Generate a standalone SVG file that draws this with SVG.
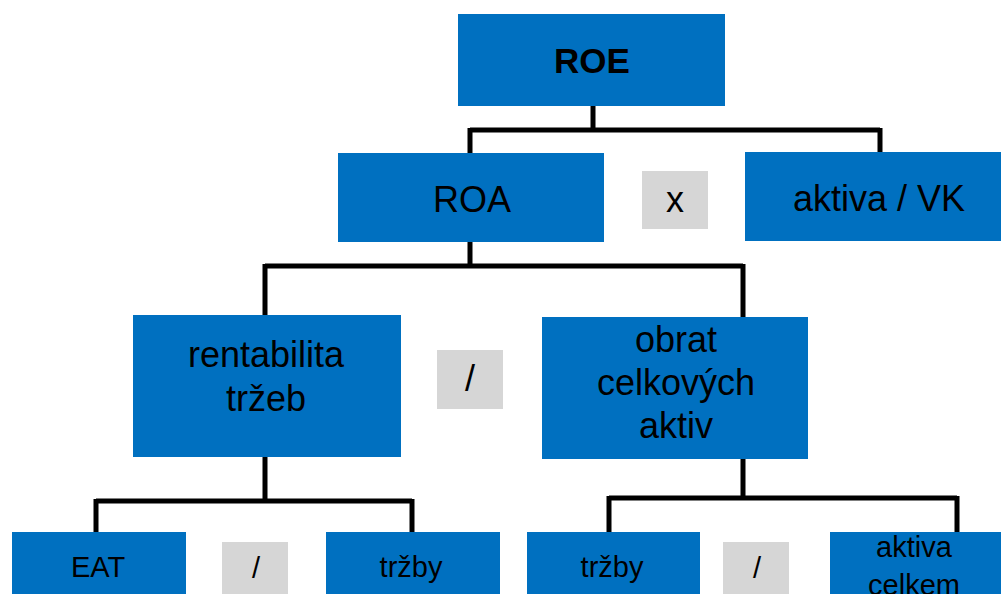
<svg xmlns="http://www.w3.org/2000/svg" width="1001" height="594" viewBox="0 0 1001 594">
  <style>
    .box { fill: #0070C0; }
    .op { fill: #D6D6D6; }
    .t { font-family: "Liberation Sans", Arial, sans-serif; font-size: 36px; fill: #000; text-anchor: middle; }
    .s { font-size: 29px; }
    .b { font-weight: bold; font-size: 35px; }
    .conn { fill: none; stroke: #000; stroke-width: 5; }
  </style>
  <rect width="1001" height="594" fill="#fff"/>

  <!-- connectors -->
  <g id="connectors" class="conn">
    <path d="M593 106 V130 M470 130 H880 M470 128 V153 M880 128 V152"/>
    <path d="M470 242 V266 M265 266 H743 M265 264 V315 M743 264 V317"/>
    <path d="M265 457 V501 M96 501 H412 M96 499 V532 M412 499 V532"/>
    <path d="M743 459 V498 M609 498 H957 M609 496 V532 M957 496 V532"/>
  </g>

  <g id="roe">
    <rect class="box" x="458" y="14" width="267" height="92"/>
    <text class="t b" x="592" y="73">ROE</text>
  </g>

  <g id="roa">
    <rect class="box" x="338" y="153" width="266" height="89"/>
    <text class="t" x="472" y="212">ROA</text>
  </g>
  <g id="op-mul">
    <rect class="op" x="642" y="171" width="66" height="58"/>
    <text class="t" x="675" y="212">x</text>
  </g>
  <g id="aktiva-vk">
    <rect class="box" x="745" y="152" width="256" height="89"/>
    <text class="t" x="879" y="211">aktiva / VK</text>
  </g>

  <g id="rentabilita">
    <rect class="box" x="133" y="315" width="268" height="142"/>
    <text class="t" x="266" y="367">rentabilita</text>
    <text class="t" x="266" y="411">tržeb</text>
  </g>
  <g id="op-div1">
    <rect class="op" x="437" y="350" width="66" height="59"/>
    <text class="t" x="470" y="391">/</text>
  </g>
  <g id="obrat">
    <rect class="box" x="542" y="317" width="266" height="142"/>
    <text class="t" x="676" y="352">obrat</text>
    <text class="t" x="676" y="395">celkových</text>
    <text class="t" x="676" y="438">aktiv</text>
  </g>

  <g id="eat">
    <rect class="box" x="12" y="532" width="174" height="70"/>
    <text class="t s" x="98" y="577">EAT</text>
  </g>
  <g id="op-div2">
    <rect class="op" x="222" y="542" width="66" height="60"/>
    <text class="t s" x="256" y="578">/</text>
  </g>
  <g id="trzby1">
    <rect class="box" x="326" y="532" width="174" height="70"/>
    <text class="t s" x="411" y="577">tržby</text>
  </g>

  <g id="trzby2">
    <rect class="box" x="527" y="532" width="173" height="70"/>
    <text class="t s" x="612" y="577">tržby</text>
  </g>
  <g id="op-div3">
    <rect class="op" x="723" y="542" width="66" height="60"/>
    <text class="t s" x="757" y="578">/</text>
  </g>
  <g id="aktiva-celkem">
    <rect class="box" x="830" y="532" width="171" height="70"/>
    <text class="t s" x="914" y="557">aktiva</text>
    <text class="t s" x="914" y="595">celkem</text>
  </g>
</svg>
